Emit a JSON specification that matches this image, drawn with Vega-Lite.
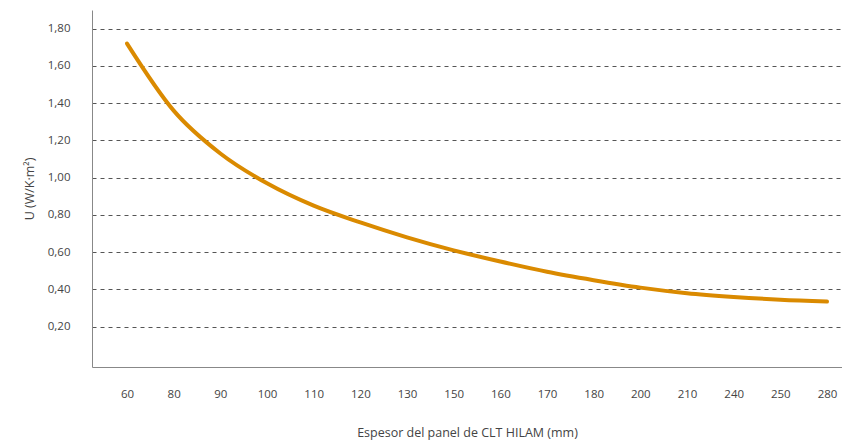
{
  "$schema": "https://vega.github.io/schema/vega-lite/v6.json",
  "width": 750,
  "height": 357,
  "padding": {"left": 92, "top": 10, "right": 0, "bottom": 76},
  "autosize": {"type": "none"},
  "background": "white",
  "config": {
    "view": {"stroke": null},
    "font": "Open Sans"
  },
  "data": {
    "values": [
      {"espesor": "60", "u": 1.72},
      {"espesor": "80", "u": 1.36},
      {"espesor": "90", "u": 1.13},
      {"espesor": "100", "u": 0.97},
      {"espesor": "110", "u": 0.85},
      {"espesor": "120", "u": 0.76},
      {"espesor": "130", "u": 0.68},
      {"espesor": "150", "u": 0.61},
      {"espesor": "160", "u": 0.55},
      {"espesor": "170", "u": 0.495},
      {"espesor": "180", "u": 0.45},
      {"espesor": "200", "u": 0.41},
      {"espesor": "210", "u": 0.38},
      {"espesor": "240", "u": 0.36},
      {"espesor": "250", "u": 0.345},
      {"espesor": "280", "u": 0.335}
    ]
  },
  "mark": {"type": "line", "color": "#DA8A00", "strokeWidth": 4, "interpolate": "monotone", "strokeCap": "round"},
  "encoding": {
    "x": {
      "field": "espesor",
      "type": "ordinal",
      "sort": null,
      "scale": {"type": "point", "padding": 0.536, "align": 0.7},
      "axis": {
        "title": "Espesor del panel de CLT HILAM (mm)",
        "titleFont": "Open Sans",
        "titleFontWeight": "normal",
        "titleFontSize": 12.5,
        "titleColor": "#444",
        "titlePadding": 27,
        "labelAngle": 0,
        "labelFontSize": 11.5,
        "labelColor": "#444",
        "labelPadding": 21,
        "ticks": false,
        "grid": false,
        "domain": true,
        "domainColor": "#888",
        "domainWidth": 1
      }
    },
    "y": {
      "field": "u",
      "type": "quantitative",
      "scale": {"domain": [-0.016, 1.9], "nice": false, "zero": false},
      "axis": {
        "title": "U (W/K·m²)",
        "titleFontWeight": "normal",
        "titleFontSize": 12.5,
        "titleColor": "#444",
        "titlePadding": 11,
        "values": [0.2, 0.4, 0.6, 0.8, 1.0, 1.2, 1.4, 1.6, 1.8],
        "labelExpr": "replace(format(datum.value, '.2f'), '.', ',')",
        "labelFontSize": 11.5,
        "labelColor": "#444",
        "labelPadding": 22,
        "ticks": false,
        "domain": true,
        "domainColor": "#888",
        "grid": true,
        "gridColor": "#555",
        "gridDash": [4, 4],
        "gridWidth": 1
      }
    }
  }
}
